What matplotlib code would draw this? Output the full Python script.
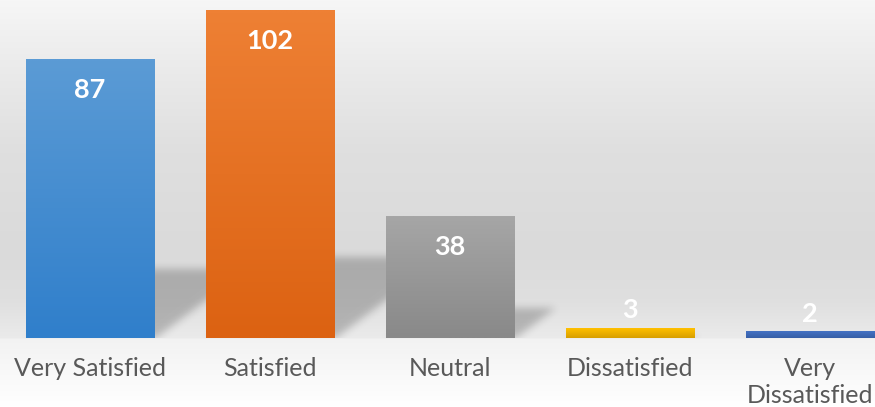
import numpy as np
import matplotlib
matplotlib.use("Agg")
import matplotlib.pyplot as plt
from matplotlib.colors import to_rgb

# survey results
categories = ["Very Satisfied", "Satisfied", "Neutral", "Dissatisfied", "Very\nDissatisfied"]
counts = [87, 102, 38, 3, 2]
# (top colour, bottom colour) for each bar's vertical gradient
bar_colors = [
    ("#5b9bd5", "#307fcb"),
    ("#ee8034", "#dc6212"),
    ("#a6a6a6", "#898989"),
    ("#ffc000", "#d89f00"),
    ("#4472c4", "#355ea6"),
]

W, H, DPI = 875, 407, 100
BASE_PX = 338          # baseline row, pixels from top
AX_W_PX = 900          # axes run a little past the right edge
YMAX = 105.4
BAR_W = 0.715

plt.rcParams['font.family'] = ['Lato', 'DejaVu Sans']

fig = plt.figure(figsize=(W / DPI, H / DPI), dpi=DPI)

# backdrop: grey band behind the bars, fading to white below the floor
bg_ax = fig.add_axes([0, 0, 1, 1], zorder=0)
rows = np.arange(H)
stops_y = [0, 60, 150, 250, 300, 337, 339, 406]
stops_v = [0.965, 0.925, 0.875, 0.855, 0.875, 0.92, 0.95, 1.0]
col = np.interp(rows, stops_y, stops_v)
bg = np.repeat(col[:, None, None], W, axis=1).repeat(3, axis=2)
bg_ax.imshow(bg, aspect="auto", extent=(0, 1, 0, 1), interpolation="none")
bg_ax.set_axis_off()

ax = fig.add_axes([0, (H - BASE_PX) / H, AX_W_PX / W, BASE_PX / H], zorder=1)
ax.patch.set_alpha(0)
n = len(counts)
x = np.arange(n)
ax.set_xlim(-0.5, n - 0.5)
ax.set_ylim(0, YMAX)


def blur(a, sigma):
    r = int(3 * sigma)
    k = np.exp(-0.5 * (np.arange(-r, r + 1) / sigma) ** 2)
    k /= k.sum()
    a = np.apply_along_axis(lambda m: np.convolve(m, k, mode="same"), 0, a)
    a = np.apply_along_axis(lambda m: np.convolve(m, k, mode="same"), 1, a)
    return a


# perspective shadows cast up and to the right of each bar
px_per_x = AX_W_PX / n
px_per_y = BASE_PX / YMAX
gy, gx = np.mgrid[0:BASE_PX, 0:AX_W_PX].astype(float)
gy = BASE_PX - gy  # height above baseline in px
mask = np.zeros_like(gx)
for xi, v in zip(x, counts):
    h = v * px_per_y
    c = (xi + 0.5) * px_per_x
    xl, xr = c - BAR_W * px_per_x / 2, c + BAR_W * px_per_x / 2
    sh = 0.25 * h
    shift = gy / 0.75
    inside = (gy <= sh) & (gx >= xl + shift) & (gx <= xr + shift)
    mask = np.maximum(mask, inside.astype(float))
mask = blur(mask, 4.0)
mask[mask < 0.01] = 0
shadow = np.zeros((BASE_PX, AX_W_PX, 4))
shadow[..., 3] = 0.22 * mask
ax.imshow(shadow, extent=(-0.5, n - 0.5, 0, YMAX), aspect="auto",
          zorder=1, interpolation="none")

bars = ax.bar(x, counts, width=BAR_W, color="none", zorder=2)
for b, (top, bot) in zip(bars, bar_colors):
    t, bo = np.array(to_rgb(top)), np.array(to_rgb(bot))
    f = np.linspace(0, 1, 64)[:, None]
    grad = (t * (1 - f) + bo * f)[:, None, :]
    ax.imshow(grad, extent=(b.get_x(), b.get_x() + b.get_width(), 0, b.get_height()),
              aspect="auto", zorder=3, interpolation="bilinear")

for xi, v in zip(x, counts):
    off = -22 if v * px_per_y > 40 else 13
    ax.annotate(str(v), (xi, v), xytext=(0, off), textcoords="offset points",
                ha="center", va="center", color="white", fontsize=19.5,
                fontweight="bold", zorder=4)

ax.set_xticks(x)
ax.set_xticklabels(categories, color="#595959", fontsize=18, linespacing=1.2)
ax.tick_params(axis="x", length=0, pad=14)
ax.set_yticks([])
for s in ax.spines.values():
    s.set_visible(False)

fig.savefig("out.png", dpi=DPI)
